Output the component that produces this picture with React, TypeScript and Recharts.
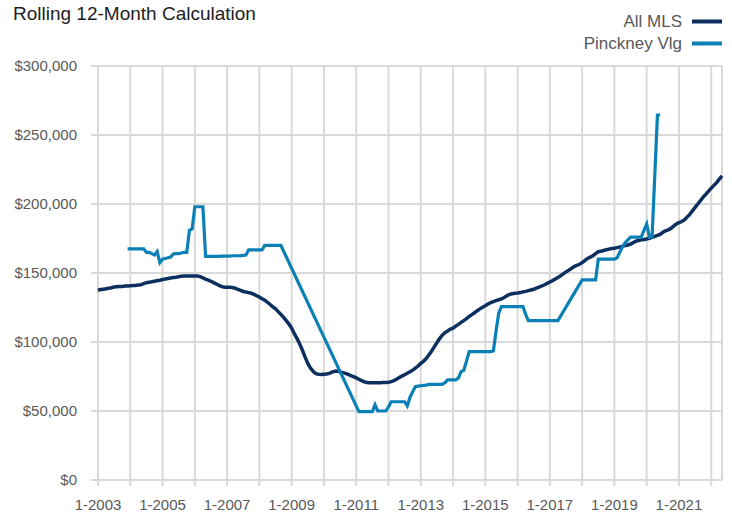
import { CartesianGrid, Line, LineChart, ReferenceLine, XAxis, YAxis } from "recharts";

const FONT = '"Liberation Sans", Arial, Helvetica, sans-serif';
const NAVY = "#0c2f5f";
const BLUE = "#0b80b6";
const GRID = "#d9d9d9";
const TEXT = "#595959";

// x-axis: one gridline per January, label every second year
const tickLabels = [
  "1-2003", "", "1-2005", "", "1-2007", "", "1-2009", "", "1-2011", "",
  "1-2013", "", "1-2015", "", "1-2017", "", "1-2019", "", "1-2021", "",
];
const yTicks = [0, 50000, 100000, 150000, 200000, 250000, 300000];

// rolling 12-month median, $ thousands, monthly from 1-2003
const allMlsK = [
  137.5, 138, 138.3, 138.6, 139, 139.3, 139.8, 140, 140.2, 140.3, 140.5, 140.6, // 2003
  140.7, 140.9, 141, 141.3, 141.5, 142.3, 143, 143.3, 143.6, 144, 144.4, 144.8, // 2004
  145.3, 145.6, 146, 146.4, 146.8, 147, 147.3, 147.6, 147.8, 147.8, 147.9, 147.9, // 2005
  147.9, 147.8, 147.4, 146.5, 145.5, 144.8, 144, 143, 142, 141, 140.2, 139.6, // 2006
  139.6, 139.6, 139.5, 139, 138.2, 137.4, 136.6, 136.2, 135.8, 135.3, 134.5, 133.5, // 2007
  132.5, 131.4, 130.3, 128.8, 127.2, 125.5, 124, 122, 120, 117.8, 115.5, 113, // 2008
  110, 106, 102.5, 98.5, 94, 89, 84.5, 81, 78.8, 77, 76.6, 76.4, // 2009
  76.6, 76.8, 77.3, 78.2, 78.8, 79, 78.3, 77.8, 77.3, 76.5, 75.6, 74.9, // 2010
  74, 73, 72, 71.2, 70.6, 70.5, 70.5, 70.5, 70.5, 70.5, 70.6, 70.6, // 2011
  70.8, 71.3, 72, 73, 74.2, 75.3, 76.3, 77.3, 78.4, 79.6, 81, 82.6, // 2012
  84.5, 86, 88, 90.6, 93.3, 96.5, 99.5, 102.5, 105, 106.8, 108, 109.3, // 2013
  110, 111.5, 112.8, 114.2, 115.5, 117, 118.5, 119.8, 121.2, 122.7, 124, 125.2, // 2014
  126.3, 127.5, 128.5, 129.3, 130, 130.6, 131.2, 132.3, 133.5, 134.5, 135, 135.3, // 2015
  135.5, 135.8, 136.3, 136.7, 137.2, 137.7, 138.2, 139, 139.8, 140.6, 141.5, 142.5, // 2016
  143.5, 144.5, 145.6, 146.8, 148, 149.4, 150.8, 152, 153.3, 154.6, 155.5, 156.3, // 2017
  157.5, 159, 160.6, 161.5, 162.5, 164, 165.4, 165.8, 166.3, 166.8, 167.3, 167.7, // 2018
  168, 168.4, 168.8, 169.3, 169.8, 170.3, 171, 172, 173, 173.5, 174, 174.3, // 2019
  174.7, 175.1, 175.8, 176.5, 177.2, 178, 179.5, 180.5, 181.3, 182.3, 184, 185.5, // 2020
  186.5, 187.3, 188.5, 190.5, 192.5, 195, 197.5, 200, 202.5, 205, 207, 209.3, // 2021
  211.5, 213.5, 215.5, 218, 220.3, // 2022
];

// months without a value are bridged by a straight line
const pinckneyK = [
  null, null, null, null, null, null, null, null, null, null, null, 167.5, // 2003
  167.5, 167.5, 167.5, 167.5, 167.5, 167.5, 165, 165, 164, 163, 165.5, 157.5, // 2004
  160, 160.5, 161, 161.6, 163.8, 164, 164, 164.5, 165, 165, 181, 182, // 2005
  198, 198, 198, 198, 162, 162, 162, 162, 162, 162, 162.2, 162.2, // 2006
  162.3, 162.3, 162.5, 162.5, 162.5, 162.6, 162.8, 163, 166.7, 166.7, 166.7, 166.7, // 2007
  166.7, 166.7, 170, 170, 170, 170, 170, 170, 170, null, null, null, // 2008
  null, null, null, null, null, null, null, null, null, null, null, null, // 2009
  null, null, null, null, null, null, null, null, null, null, null, null, // 2010
  null, 49.5, 49.5, 49.5, 49.5, 49.5, 49.5, 54.5, 50, 50, 50, 50, // 2011
  53, 56.7, 56.7, 56.7, 56.7, 56.7, 56.7, 53.6, 60, 64, 67.6, 68, // 2012
  68.3, 68.6, 68.8, 69.3, 69.3, 69.3, 69.3, 69.3, 69.3, 70.5, 72.5, 72.5, // 2013
  72.5, 72.5, 74, 78.5, 79.5, 86, 93, 93, 93, 93, 93, 93, // 2014
  93, 93, 93, 93.5, 108, 121, 125.6, 125.6, 125.6, 125.6, 125.6, 125.6, // 2015
  125.6, 125.6, 125.6, 120, 115.5, 115.5, 115.5, 115.5, 115.5, 115.5, 115.5, 115.5, // 2016
  115.5, 115.5, 115.5, 115.5, null, null, null, null, null, null, null, null, // 2017
  145, 145, 145, 145, 145, 145, 160, 160, 160, 160, 160, 160, // 2018
  160, 161, 165, 169, 172, 174, 176, 176, 176, 176, 176, 181, // 2019
  185.5, 176, 176, null, 264.5, 264.5, null, null, null, null, null, null, // 2020
];

const lastIndex = allMlsK.length - 1;
const yearTicks = tickLabels.map((_, k) => k * 12);

const data = allMlsK.map((v, i) => ({
  i,
  allMls: v * 1000,
  pinckney: pinckneyK[i] == null ? null : (pinckneyK[i] as number) * 1000,
}));

const tickStyle = { fill: TEXT, fontSize: 15, fontFamily: FONT };

export default function App() {
  return (
    <div style={{ position: "absolute", left: 0, top: 0, width: 732, height: 515, background: "#fff" }}>
      <LineChart
        width={732}
        height={515}
        data={data}
        margin={{ top: 66, right: 10, bottom: 0, left: 0 }}
      >
        <CartesianGrid stroke={GRID} strokeWidth={2} />
        <XAxis
          type="number"
          dataKey="i"
          domain={[0, lastIndex]}
          ticks={yearTicks}
          interval={0}
          tickFormatter={(v: number) => tickLabels[v / 12]}
          axisLine={false}
          tickLine={{ stroke: GRID, strokeWidth: 2 }}
          tickSize={6}
          tickMargin={13}
          height={35}
          tick={tickStyle}
        />
        <YAxis
          domain={[0, 300000]}
          ticks={yTicks}
          interval={0}
          tickFormatter={(v: number) => `$${v.toLocaleString("en-US")}`}
          axisLine={false}
          tickLine={{ stroke: GRID, strokeWidth: 2 }}
          tickSize={7}
          tickMargin={14}
          width={98}
          tick={tickStyle}
        />
        <ReferenceLine x={lastIndex} stroke={GRID} strokeWidth={2} />
        <Line
          dataKey="allMls"
          stroke={NAVY}
          strokeWidth={3.5}
          dot={false}
          type="linear"
          isAnimationActive={false}
        />
        <Line
          dataKey="pinckney"
          stroke={BLUE}
          strokeWidth={3.2}
          dot={false}
          type="linear"
          connectNulls
          isAnimationActive={false}
        />
      </LineChart>
      <svg
        width={732}
        height={60}
        style={{ position: "absolute", left: 0, top: 0, pointerEvents: "none" }}
      >
        <text x={13} y={20} fontSize={19} fontFamily={FONT} fill="#1e1e1e">
          Rolling 12-Month Calculation
        </text>
        <text x={682} y={27} fontSize={17} fontFamily={FONT} fill={TEXT} textAnchor="end">
          All MLS
        </text>
        <line x1={692} x2={722} y1={21.5} y2={21.5} stroke={NAVY} strokeWidth={4} />
        <text x={682} y={48.5} fontSize={17} fontFamily={FONT} fill={TEXT} textAnchor="end">
          Pinckney Vlg
        </text>
        <line x1={692} x2={722} y1={43.5} y2={43.5} stroke={BLUE} strokeWidth={4} />
      </svg>
    </div>
  );
}
